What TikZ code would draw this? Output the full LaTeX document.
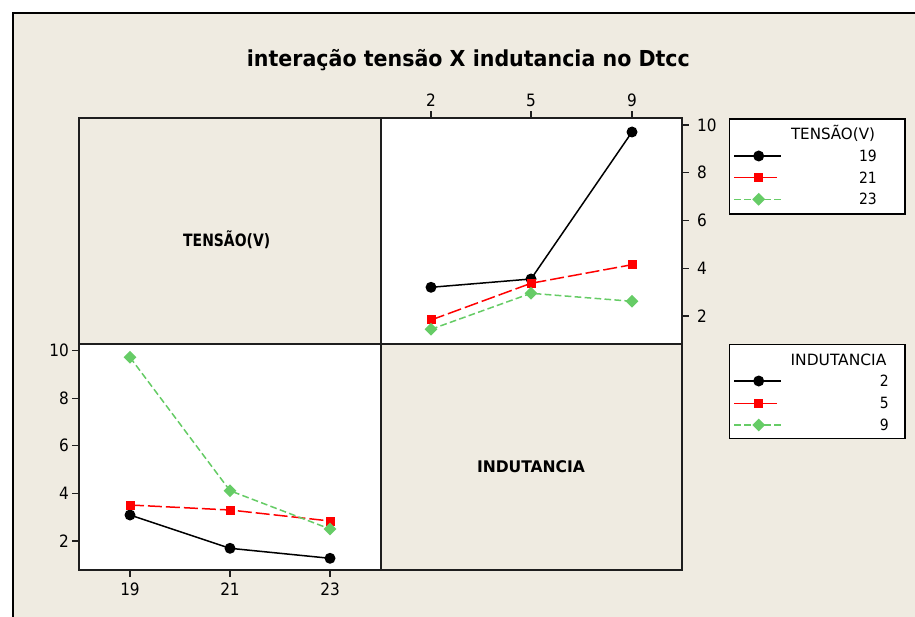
\documentclass[tikz,border=0pt]{standalone}
\usepackage{fontspec}
\setmainfont{DejaVu Sans Condensed}
\usetikzlibrary{shapes.geometric}
\definecolor{bg}{RGB}{239,235,225}
\definecolor{grn}{RGB}{102,204,102}
\definecolor{frm}{RGB}{30,30,30}
\begin{document}
\begin{tikzpicture}[x=1pt,y=-1pt,
  cell/.style={draw=frm, line width=1.5pt},
  tick/.style={draw=frm, line width=1.3pt},
  ticklab/.style={font=\fontsize{17}{19}\selectfont, inner sep=0pt},
  leglab/.style={font=\fontsize{15.5}{17}\selectfont, inner sep=0pt},
  blk/.style={draw=black, line width=1.5pt},
  redl/.style={draw=red, line width=1.5pt, dash pattern=on 14pt off 4pt},
  grnl/.style={draw=grn, line width=1.5pt, dash pattern=on 6.7pt off 3.3pt},
  mcirc/.style={circle, fill=black, minimum size=11pt, inner sep=0pt},
  msq/.style={rectangle, fill=red, minimum size=9pt, inner sep=0pt},
  mdia/.style={diamond, aspect=1, fill=grn, minimum size=13pt, inner sep=0pt},
  legbox/.style={draw=black, fill=white, line width=1.4pt}
]
\useasboundingbox (0,0) rectangle (915,617);
\fill[white] (0,0) rectangle (915,617);
\fill[bg] (13,13) rectangle (916,618);
\draw[line width=2.6pt] (13,625) -- (13,13) -- (925,13);

% title
\node[anchor=base, inner sep=0pt, font=\fontsize{22}{26}\selectfont\bfseries] (title) at (468.4,66.7) {\resizebox{443pt}{\height}{interação tensão X indutancia no Dtcc}};

% panels
\fill[white] (381,118) rectangle (682,344);
\fill[white] (79,344) rectangle (381,570);
\draw[cell] (79,118) rectangle (682,570);
\draw[cell] (381,118) -- (381,570);
\draw[cell] (79,344) -- (682,344);

% cell labels
\node[anchor=base, inner sep=0pt, font=\fontsize{17}{19}\selectfont\bfseries] (lblT) at (226.7,246.7) {\resizebox{87pt}{\height}{TENSÃO(V)}};
\node[anchor=base, inner sep=0pt, font=\fontsize{16}{19}\selectfont\bfseries] (lblI) at (531,472.7) {\resizebox{108pt}{\height}{INDUTANCIA}};

% top axis of top-right panel
\foreach \xx/\lab in {431/2, 531/5, 632/9}{
  \draw[tick] (\xx,111.5) -- (\xx,118);
  \node[ticklab, anchor=base] at (\xx,106.7) {\lab};
}
% right axis of top-right panel
\foreach \yy/\lab in {316/2, 268.25/4, 220.5/6, 172.75/8, 125/10}{
  \draw[tick] (682,\yy) -- (689,\yy);
  \node[ticklab, anchor=west] at (697,\yy) {\lab};
}
% left axis of bottom-left panel
\foreach \yy/\lab in {541/2, 493.4/4, 445.8/6, 398.2/8, 350.6/10}{
  \draw[tick] (72,\yy) -- (79,\yy);
  \node[ticklab, anchor=east] at (69,\yy) {\lab};
}
% bottom axis of bottom-left panel
\foreach \xx/\lab in {130/19, 230/21, 330/23}{
  \draw[tick] (\xx,570) -- (\xx,577);
  \node[ticklab, anchor=base] at (\xx,595) {\lab};
}

% ---- top-right panel data (x = INDUTANCIA 2,5,9)
\coordinate (tb1) at (431,287.3);
\coordinate (tb2) at (531,279);
\coordinate (tb3) at (632,132);
\coordinate (tr1) at (431,320);
\coordinate (tr2) at (531,283.3);
\coordinate (tr3) at (632,264.7);
\coordinate (tg1) at (431,329.3);
\coordinate (tg2) at (531,293.3);
\coordinate (tg3) at (632,301.3);
\draw[blk] (tb1) -- (tb2) -- (tb3);
\foreach \p in {tb1,tb2,tb3} \node[mcirc] at (\p) {};
\draw[redl] (tr1) -- (tr2) -- (tr3);
\foreach \p in {tr1,tr2,tr3} \node[msq] at (\p) {};
\draw[grnl] (tg1) -- (tg2) -- (tg3);
\foreach \p in {tg1,tg2,tg3} \node[mdia] at (\p) {};

% ---- bottom-left panel data (x = TENSAO 19,21,23)
\coordinate (bb1) at (130,515);
\coordinate (bb2) at (230,548.3);
\coordinate (bb3) at (330,558.3);
\coordinate (br1) at (130,505);
\coordinate (br2) at (230,510);
\coordinate (br3) at (330,521);
\coordinate (bg1) at (130,357.3);
\coordinate (bg2) at (230,490.7);
\coordinate (bg3) at (330,529);
\draw[blk] (bb1) -- (bb2) -- (bb3);
\foreach \p in {bb1,bb2,bb3} \node[mcirc] at (\p) {};
\draw[redl] (br1) -- (br2) -- (br3);
\foreach \p in {br1,br2,br3} \node[msq] at (\p) {};
\draw[grnl] (bg1) -- (bg2) -- (bg3);
\foreach \p in {bg1,bg2,bg3} \node[mdia] at (\p) {};

% ---- legend 1
\draw[legbox] (729.3,119) rectangle (905,214);
\node[leglab, anchor=base] (leg1t) at (833,139.3) {\resizebox{84pt}{\height}{TENSÃO(V)}};
\coordinate (a1) at (734,156); \coordinate (b1) at (781,156);
\draw[blk] (a1) -- (b1); \node[mcirc] (m11) at (758.7,156) {};
\coordinate (a2) at (734,177.7); \coordinate (b2) at (777,177.7);
\draw[draw=red, line width=1.5pt] (a2) -- (b2); \node[msq] (m12) at (758.7,177.7) {};
\coordinate (a3) at (734,199.3); \coordinate (b3) at (781,199.3);
\draw[grnl] (a3) -- (b3); \node[mdia] (m13) at (758.7,199.3) {};
\node[leglab, anchor=east] at (877,156) {19};
\node[leglab, anchor=east] at (877,177.7) {21};
\node[leglab, anchor=east] at (877,199.3) {23};

% ---- legend 2
\draw[legbox] (729.3,344.3) rectangle (905,438.3);
\node[leglab, anchor=base] (leg2t) at (838.5,365) {\resizebox{95.7pt}{\height}{INDUTANCIA}};
\coordinate (c1) at (734,381); \coordinate (d1) at (781,381);
\draw[blk] (c1) -- (d1); \node[mcirc] (m21) at (758.7,381) {};
\coordinate (c2) at (734,403.3); \coordinate (d2) at (777,403.3);
\draw[draw=red, line width=1.5pt] (c2) -- (d2); \node[msq] (m22) at (758.7,403.3) {};
\coordinate (c3) at (734,425); \coordinate (d3) at (781,425);
\draw[grnl] (c3) -- (d3); \node[mdia] (m23) at (758.7,425) {};
\node[leglab, anchor=east] at (889,381) {2};
\node[leglab, anchor=east] at (889,403.3) {5};
\node[leglab, anchor=east] at (889,425) {9};
\end{tikzpicture}
\end{document}
